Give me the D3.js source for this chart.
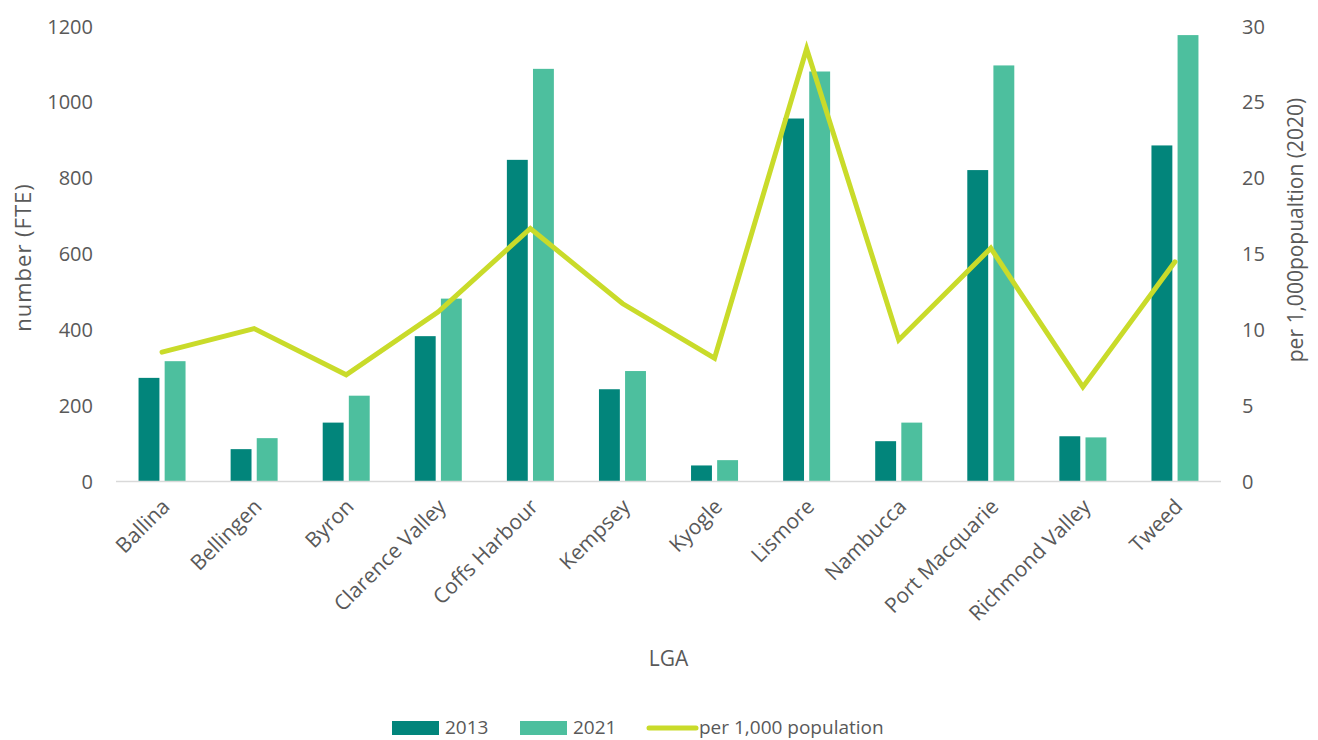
<!DOCTYPE html>
<html>
<head>
<meta charset="utf-8">
<script src="https://cdn.jsdelivr.net/npm/d3@7/dist/d3.min.js"></script>
<style>
  html, body { margin: 0; padding: 0; background: #ffffff; }
  svg { display: block; font-family: "Open Sans", "DejaVu Sans", sans-serif; }
</style>
</head>
<body>
<svg id="chart" width="1318" height="740"></svg>
<script>
// Local government areas
const categories = ["Ballina", "Bellingen", "Byron", "Clarence Valley", "Coffs Harbour", "Kempsey",
  "Kyogle", "Lismore", "Nambucca", "Port Macquarie", "Richmond Valley", "Tweed"];

// Workforce, number (FTE)
const values2013 = [272, 84, 154, 382, 847, 242, 41, 956, 105, 820, 118, 885];
const values2021 = [316, 113, 225, 481, 1087, 290, 55, 1080, 154, 1096, 115, 1176];

// Rate per 1,000 population (2020)
const perThousand = [8.5, 10.05, 7.0, 11.15, 16.65, 11.7, 8.1, 28.5, 9.3, 15.35, 6.2, 14.45];

const leftTicks = [0, 200, 400, 600, 800, 1000, 1200];
const rightTicks = [0, 5, 10, 15, 20, 25, 30];
const seriesNames = ["2013", "2021"];

const colors = { "2013": "#02857b", "2021": "#4dbf9e", line: "#c9db2a", text: "#595959", axis: "#d9d9d9" };
const fontStack = '"Open Sans", "DejaVu Sans", sans-serif';

const svg = d3.select("#chart");
const plot = { left: 116, right: 1221, top: 26, bottom: 481 };

const x = d3.scaleBand().domain(categories).range([plot.left, plot.right]).paddingInner(0).paddingOuter(0);
const yLeft = d3.scaleLinear().domain([0, 1200]).range([plot.bottom, plot.top]);
const yRight = d3.scaleLinear().domain([0, 30]).range([plot.bottom, plot.top]);
const xSub = d3.scaleBand().domain(seriesNames).range([-23.5, 23.5]).paddingInner(0.2);

const rows = categories.map((c, i) => ({ cat: c, "2013": values2013[i], "2021": values2021[i], rate: perThousand[i] }));

// Bars
const groups = svg.append("g").selectAll("g")
  .data(rows).join("g")
  .attr("transform", d => `translate(${x(d.cat) + x.bandwidth() / 2},0)`);

groups.selectAll("rect")
  .data(d => seriesNames.map(s => ({ key: s, value: d[s] })))
  .join("rect")
  .attr("x", d => xSub(d.key))
  .attr("width", xSub.bandwidth())
  .attr("y", d => yLeft(d.value))
  .attr("height", d => yLeft(0) - yLeft(d.value))
  .attr("fill", d => colors[d.key]);

// Category axis baseline
svg.append("line")
  .attr("x1", plot.left).attr("x2", plot.right)
  .attr("y1", plot.bottom + 0.5).attr("y2", plot.bottom + 0.5)
  .attr("stroke", colors.axis).attr("stroke-width", 1.5);

// Rate line on secondary axis
const line = d3.line()
  .x(d => x(d.cat) + x.bandwidth() / 2)
  .y(d => yRight(d.rate));

svg.append("path")
  .datum(rows)
  .attr("d", line)
  .attr("fill", "none")
  .attr("stroke", colors.line)
  .attr("stroke-width", 5)
  .attr("stroke-linecap", "round")
  .attr("stroke-linejoin", "miter");

// Left axis
const leftAxis = svg.append("g")
  .attr("transform", `translate(${plot.left - 23},0)`)
  .call(d3.axisLeft(yLeft).tickValues(leftTicks).tickSize(0).tickPadding(0).tickFormat(d3.format("d")));
leftAxis.attr("font-family", fontStack).attr("font-size", 20);
leftAxis.select(".domain").remove();
leftAxis.selectAll("text").attr("fill", colors.text).attr("dy", "0.35em");

// Right axis
const rightAxis = svg.append("g")
  .attr("transform", `translate(${plot.right + 21},0)`)
  .call(d3.axisRight(yRight).tickValues(rightTicks).tickSize(0).tickPadding(0));
rightAxis.attr("font-family", fontStack).attr("font-size", 20);
rightAxis.select(".domain").remove();
rightAxis.selectAll("text").attr("fill", colors.text).attr("dy", "0.35em");

// Category labels
const xAxis = svg.append("g")
  .attr("transform", `translate(0,${plot.bottom})`)
  .call(d3.axisBottom(x).tickSize(0).tickPadding(0));
xAxis.attr("font-family", fontStack).attr("font-size", 21);
xAxis.select(".domain").remove();
xAxis.selectAll("text")
  .attr("fill", colors.text)
  .attr("text-anchor", "end")
  .attr("dy", null)
  .attr("y", 0)
  .attr("transform", "translate(9,27) rotate(-45)");

// Axis titles
svg.append("text")
  .attr("transform", `translate(31,${(plot.top + plot.bottom) / 2 + 4}) rotate(-90)`)
  .attr("text-anchor", "middle")
  .attr("fill", colors.text)
  .style("font-size", "22px")
  .style("letter-spacing", "1px")
  .text("number (FTE)");

svg.append("text")
  .attr("transform", `translate(1303,230) rotate(-90)`)
  .attr("text-anchor", "middle")
  .attr("fill", colors.text)
  .style("font-size", "21px")
  .text("per 1,000popualtion (2020)");

svg.append("text")
  .attr("x", (plot.left + plot.right) / 2)
  .attr("y", 666)
  .attr("text-anchor", "middle")
  .attr("fill", colors.text)
  .style("font-size", "21px")
  .text("LGA");

// Legend
const legend = svg.append("g");
const legendItems = [
  { label: "2013", type: "rect", color: colors["2013"], x: 392 },
  { label: "2021", type: "rect", color: colors["2021"], x: 520 },
  { label: "per 1,000 population", type: "line", color: colors.line, x: 647 }
];
legendItems.forEach(item => {
  if (item.type === "rect") {
    legend.append("rect").attr("x", item.x).attr("y", 721).attr("width", 47).attr("height", 14).attr("fill", item.color);
    legend.append("text").attr("x", item.x + 53).attr("y", 734).attr("fill", colors.text)
      .style("font-size", "19px").text(item.label);
  } else {
    legend.append("line").attr("x1", item.x + 2).attr("x2", item.x + 49).attr("y1", 728).attr("y2", 728)
      .attr("stroke", item.color).attr("stroke-width", 5).attr("stroke-linecap", "round");
    legend.append("text").attr("x", item.x + 52).attr("y", 734).attr("fill", colors.text)
      .style("font-size", "19px").text(item.label);
  }
});
</script>
</body>
</html>
